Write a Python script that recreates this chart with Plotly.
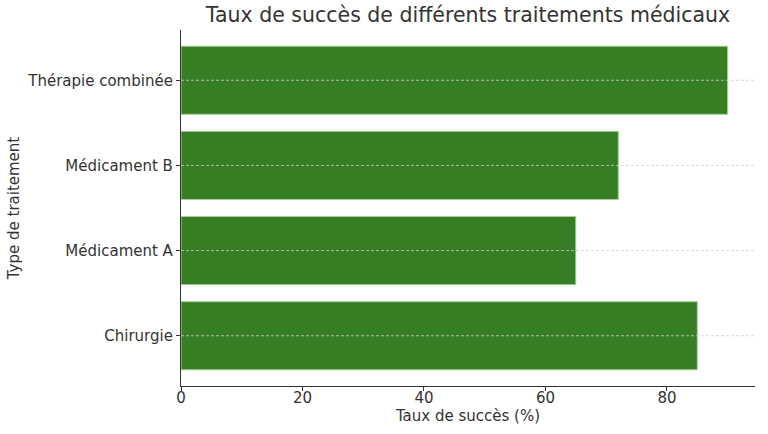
import plotly.graph_objects as go

categories = ["Chirurgie", "Médicament A", "Médicament B", "Thérapie combinée"]
success_rates = [85, 65, 72, 90]
x_ticks = [0, 20, 40, 60, 80]

fig = go.Figure()
fig.add_trace(go.Bar(
    x=success_rates,
    y=categories,
    orientation="h",
    width=0.8,
    marker=dict(color="#367d23", line=dict(color="#a8d39a", width=1)),
))

# dashed horizontal gridlines drawn above the bars
for c in categories:
    fig.add_shape(type="line", xref="paper", x0=0, x1=1, yref="y", y0=c, y1=c,
                  line=dict(color="#cfcfcf", width=0.8, dash="3px,2px"), layer="above")

font_family = "DejaVu Sans"
fig.update_layout(
    width=768, height=434,
    margin=dict(l=181, r=13, t=30, b=48),
    paper_bgcolor="white", plot_bgcolor="white",
    showlegend=False,
    title=dict(text="Taux de succès de différents traitements médicaux",
               x=(181 + 755) / 2 / 768, xanchor="center", y=1 - 15 / 434, yanchor="middle",
               font=dict(family=font_family, size=20.5, color="#333333")),
    font=dict(family=font_family, size=15, color="#333333"),
    bargap=0.2,
)
fig.update_xaxes(
    range=[0, 94.5],
    tickvals=x_ticks,
    ticks="outside", ticklen=4, tickcolor="#333333",
    ticklabelstandoff=-6,
    showgrid=False, zeroline=False, automargin=False,
    showline=True, linecolor="#333333", linewidth=1.2,
    title=dict(text="Taux de succès (%)", font=dict(size=15, color="#333333"), standoff=0),
    tickfont=dict(size=15, color="#333333"),
)
fig.update_yaxes(
    range=[-0.59, 3.59],
    ticks="outside", ticklen=4, tickcolor="#333333",
    showgrid=False, zeroline=False, automargin=False,
    showline=True, linecolor="#333333", linewidth=1.2,
    title=dict(text="Type de traitement", font=dict(size=15, color="#333333"), standoff=4),
    tickfont=dict(size=15, color="#333333"),
)

fig.write_html("out.html", config={"displayModeBar": False},
               post_script="document.body.style.margin='0';")
